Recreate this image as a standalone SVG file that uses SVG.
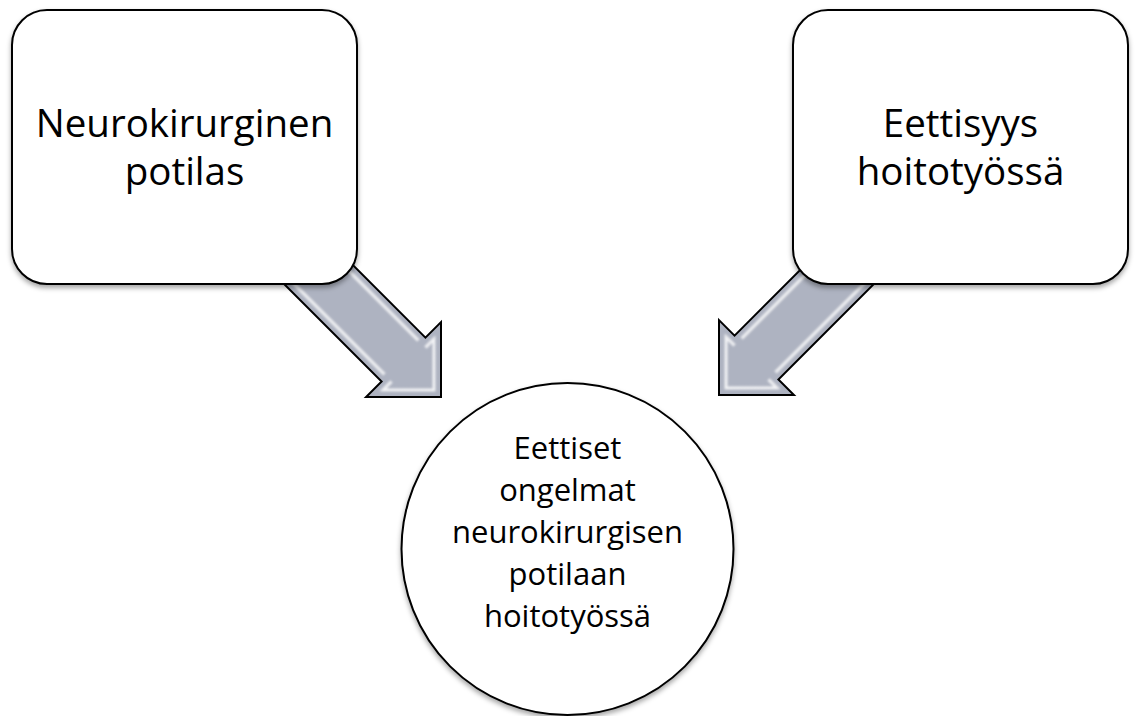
<svg xmlns="http://www.w3.org/2000/svg" width="1138" height="716" viewBox="0 0 1138 716">
  <defs>
    <filter id="shadow" x="-10%" y="-10%" width="120%" height="125%">
      <feDropShadow dx="0" dy="3" stdDeviation="2.5" flood-color="#000" flood-opacity="0.35"/>
    </filter>
    <filter id="soft" filterUnits="userSpaceOnUse" x="-300" y="-100" width="400" height="200">
      <feGaussianBlur stdDeviation="0.8"/>
    </filter>
  </defs>
  <style>
    .node { fill: #ffffff; stroke: #000000; stroke-width: 2; filter: url(#shadow); }
    .arrow { fill: #aeb3c1; stroke: #000000; stroke-width: 2; stroke-linejoin: miter; }
    .bevel { fill: none; stroke: #ffffff; stroke-width: 3; stroke-opacity: 0.85; filter: url(#soft); }
    .big { font-family: "Open Sans", "Liberation Sans", sans-serif; font-size: 38.5px; fill: #000; text-anchor: middle; }
    .small { font-family: "Open Sans", "Liberation Sans", sans-serif; font-size: 31px; fill: #000; text-anchor: middle; }
  </style>

  <g id="connectors">
    <g id="arrow-left" transform="translate(441,397) rotate(45)">
      <polygon class="arrow" points="0,0 -53,-53 -53,-31 -215,-31 -215,31 -53,31 -53,53"/>
      <g class="bevel">
        <polyline points="-46,-24 -46,-36 -10,0 -46,36 -46,24"/>
        <polyline points="-215,-24 -56,-24"/>
        <polyline points="-215,24 -56,24"/>
      </g>
    </g>
    <g id="arrow-right" transform="translate(719,395) rotate(135)">
      <polygon class="arrow" points="0,0 -53,-53 -53,-31 -240,-31 -240,31 -53,31 -53,53"/>
      <g class="bevel">
        <polyline points="-46,-24 -46,-36 -10,0 -46,36 -46,24"/>
        <polyline points="-240,-24 -56,-24"/>
        <polyline points="-240,24 -56,24"/>
      </g>
    </g>
  </g>

  <g id="node-neurokirurginen">
    <rect class="node" x="12" y="10" width="345" height="274" rx="35" ry="35"/>
    <text class="big"><tspan x="184.5" y="137">Neurokirurginen</tspan><tspan x="184.5" y="185">potilas</tspan></text>
  </g>

  <g id="node-eettisyys">
    <rect class="node" x="793" y="10" width="335" height="274" rx="35" ry="35"/>
    <text class="big"><tspan x="960.5" y="137">Eettisyys</tspan><tspan x="960.5" y="185">hoitotyössä</tspan></text>
  </g>

  <g id="node-eettiset-ongelmat">
    <circle class="node" cx="567.5" cy="549" r="166"/>
    <text class="small"><tspan x="567.5" y="459">Eettiset</tspan><tspan x="567.5" y="501">ongelmat</tspan><tspan x="567.5" y="543">neurokirurgisen</tspan><tspan x="567.5" y="585">potilaan</tspan><tspan x="567.5" y="627">hoitotyössä</tspan></text>
  </g>
</svg>
